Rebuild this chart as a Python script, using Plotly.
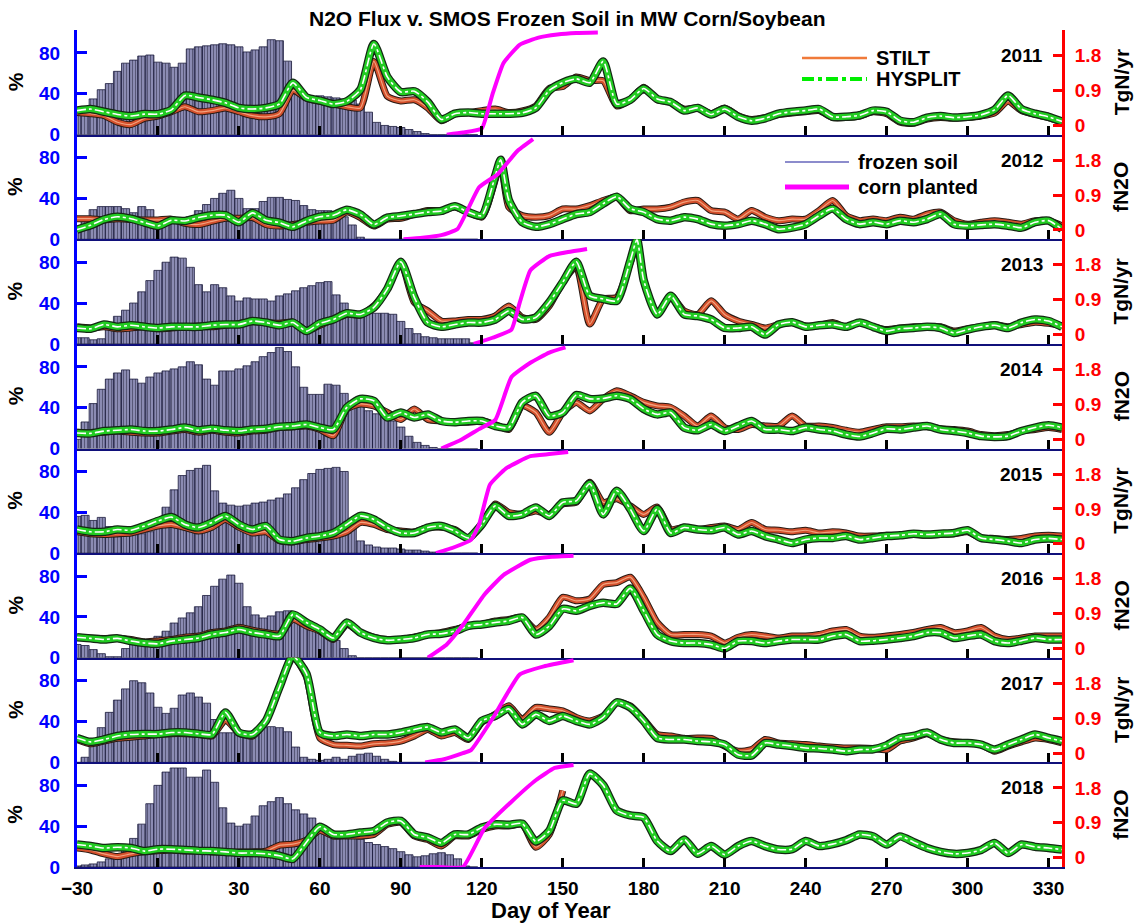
import plotly.graph_objects as go

# ---------------- data ----------------
YEARS = [2011, 2012, 2013, 2014, 2015, 2016, 2017, 2018]
FLUX_DAYS = list(range(-30, 336, 5))          # 74 days
FROZEN_DAYS = list(range(-30, 118, 3))        # 50 days
X_TICKS = list(range(-30, 331, 30))
LEFT_TICKS = [0, 40, 80]
RIGHT_TICKS = [0, 0.9, 1.8]
RIGHT_TICK_TEXT = ["0", "0.9", "1.8"]
RIGHT_TITLES = ["TgN/yr", "fN2O", "TgN/yr", "fN2O", "TgN/yr", "fN2O", "TgN/yr", "fN2O"]

days_2012 = FLUX_DAYS[:32] + [127] + FLUX_DAYS[32:]
days_2013 = FLUX_DAYS[:42] + [177.5] + FLUX_DAYS[42:]

# ---- HYSPLIT / STILT fluxes (TgN/yr) ----
hysplit_2011 = [0.38, 0.42, 0.35, 0.28, 0.24, 0.29, 0.29, 0.40, 0.77, 0.72,
                0.66, 0.58, 0.45, 0.42, 0.45, 0.55, 1.10, 0.72, 0.64, 0.55,
                0.62, 0.92, 2.10, 1.25, 0.86, 0.88, 0.60, 0.15, 0.30, 0.33,
                0.30, 0.30, 0.30, 0.32, 0.45, 0.90, 1.10, 1.20, 1.10, 1.65,
                0.55, 0.66, 0.95, 0.68, 0.60, 0.38, 0.45, 0.28, 0.42, 0.22,
                0.12, 0.18, 0.30, 0.35, 0.38, 0.42, 0.22, 0.22, 0.26, 0.38,
                0.35, 0.12, 0.08, 0.20, 0.24, 0.20, 0.22, 0.27, 0.40, 0.77,
                0.42, 0.30, 0.22, 0.10]
stilt_2011 = [0.33, 0.30, 0.25, 0.08, 0.02, 0.18, 0.24, 0.35, 0.48, 0.35,
              0.38, 0.45, 0.35, 0.25, 0.22, 0.30, 0.90, 0.70, 0.62, 0.55,
              0.48, 0.45, 1.65, 0.75, 0.63, 0.66, 0.45, 0.12, 0.30, 0.33,
              0.38, 0.42, 0.33, 0.37, 0.50, 0.95, 1.00, 1.25, 1.15, 1.15,
              0.50, 0.66, 0.98, 0.66, 0.60, 0.42, 0.45, 0.30, 0.45, 0.25,
              0.15, 0.20, 0.28, 0.32, 0.35, 0.38, 0.20, 0.20, 0.24, 0.35,
              0.30, 0.08, 0.05, 0.16, 0.20, 0.18, 0.20, 0.24, 0.32, 0.62,
              0.38, 0.28, 0.20, 0.08]

hysplit_2012 = [0.01, 0.12, 0.27, 0.34, 0.29, 0.19, 0.10, 0.25, 0.23, 0.32,
                0.38, 0.38, 0.20, 0.44, 0.25, 0.19, 0.08, 0.23, 0.34, 0.38,
                0.52, 0.40, 0.14, 0.32, 0.36, 0.41, 0.46, 0.49, 0.61, 0.46,
                0.37, 1.40, 1.81, 0.77, 0.20, 0.08, 0.15, 0.28, 0.41, 0.46, 0.68,
                0.86, 0.55, 0.46, 0.28, 0.24, 0.33, 0.28, 0.15, 0.11, 0.15,
                0.24, 0.15, 0.02, 0.06, 0.15, 0.37, 0.55, 0.28, 0.15, 0.20,
                0.15, 0.24, 0.20, 0.28, 0.41, 0.15, 0.11, 0.13, 0.15, 0.11,
                0.06, 0.20, 0.24, 0.02]
stilt_2012 = [0.29, 0.29, 0.26, 0.29, 0.27, 0.26, 0.26, 0.28, 0.17, 0.14,
              0.22, 0.30, 0.30, 0.32, 0.14, 0.10, 0.14, 0.20, 0.23, 0.25,
              0.46, 0.32, 0.10, 0.28, 0.30, 0.41, 0.50, 0.50, 0.59, 0.46,
              0.33, 1.30, 1.78, 0.59, 0.37, 0.33, 0.37, 0.54, 0.54, 0.63, 0.76,
              0.85, 0.50, 0.54, 0.54, 0.59, 0.72, 0.76, 0.50, 0.46, 0.28,
              0.50, 0.33, 0.24, 0.28, 0.28, 0.50, 0.76, 0.37, 0.24, 0.28,
              0.24, 0.33, 0.28, 0.41, 0.46, 0.24, 0.15, 0.20, 0.24, 0.20,
              0.15, 0.24, 0.24, 0.11]

hysplit_2013 = [0.17, 0.15, 0.26, 0.20, 0.24, 0.20, 0.17, 0.20, 0.20, 0.20,
                0.24, 0.26, 0.26, 0.35, 0.31, 0.24, 0.31, 0.09, 0.29, 0.39,
                0.55, 0.52, 0.70, 1.18, 1.88, 0.96, 0.31, 0.20, 0.26, 0.31,
                0.31, 0.39, 0.61, 0.39, 0.44, 0.83, 1.35, 1.88, 1.00, 0.92,
                0.87, 1.90, 2.45, 1.40, 0.52, 1.00, 0.52, 0.48, 0.39, 0.17, 0.17,
                0.20, 0.00, 0.26, 0.32, 0.20, 0.24, 0.26, 0.20, 0.31, 0.20,
                0.09, 0.15, 0.17, 0.20, 0.17, 0.04, 0.13, 0.20, 0.24, 0.17,
                0.31, 0.39, 0.35, 0.20]
stilt_2013 = [0.20, 0.17, 0.20, 0.15, 0.17, 0.20, 0.15, 0.17, 0.20, 0.22,
              0.20, 0.24, 0.29, 0.33, 0.31, 0.29, 0.32, 0.11, 0.24, 0.39,
              0.52, 0.50, 0.74, 1.18, 1.85, 0.83, 0.61, 0.35, 0.35, 0.39,
              0.39, 0.48, 0.74, 0.44, 0.39, 0.74, 1.35, 1.75, 0.27, 0.92,
              0.96, 1.85, 2.40, 1.40, 0.52, 1.00, 0.61, 0.52, 0.87, 0.52, 0.35,
              0.26, 0.17, 0.26, 0.32, 0.22, 0.24, 0.31, 0.20, 0.31, 0.20,
              0.13, 0.17, 0.20, 0.20, 0.20, 0.09, 0.15, 0.20, 0.26, 0.20,
              0.26, 0.32, 0.29, 0.22]

hysplit_2014 = [0.16, 0.15, 0.21, 0.23, 0.25, 0.21, 0.21, 0.25, 0.30, 0.23,
                0.27, 0.23, 0.21, 0.25, 0.27, 0.32, 0.34, 0.38, 0.30, 0.25,
                0.82, 1.04, 0.99, 0.56, 0.69, 0.56, 0.64, 0.47, 0.44, 0.47,
                0.47, 0.34, 0.30, 0.95, 1.12, 0.60, 0.69, 1.14, 1.04, 1.05,
                1.12, 1.04, 0.78, 0.64, 0.69, 0.30, 0.23, 0.38, 0.21, 0.34,
                0.47, 0.25, 0.25, 0.21, 0.30, 0.25, 0.21, 0.12, 0.07, 0.16,
                0.27, 0.25, 0.30, 0.34, 0.25, 0.21, 0.16, 0.08, 0.06, 0.08,
                0.21, 0.30, 0.36, 0.30]
stilt_2014 = [0.18, 0.16, 0.18, 0.21, 0.18, 0.16, 0.16, 0.21, 0.25, 0.18,
              0.23, 0.18, 0.16, 0.21, 0.23, 0.30, 0.32, 0.34, 0.25, 0.09,
              0.78, 0.91, 0.86, 0.69, 0.51, 0.78, 0.51, 0.47, 0.44, 0.44,
              0.47, 0.38, 0.25, 0.86, 0.69, 0.18, 0.69, 0.95, 0.73, 1.04,
              1.25, 1.12, 0.95, 0.86, 0.82, 0.60, 0.34, 0.60, 0.30, 0.25,
              0.38, 0.34, 0.34, 0.60, 0.34, 0.34, 0.30, 0.23, 0.18, 0.25,
              0.32, 0.32, 0.34, 0.32, 0.27, 0.25, 0.21, 0.12, 0.09, 0.12,
              0.21, 0.25, 0.30, 0.25]

hysplit_2015 = [0.37, 0.31, 0.31, 0.37, 0.35, 0.46, 0.59, 0.69, 0.50, 0.42,
                0.55, 0.72, 0.50, 0.37, 0.46, 0.11, 0.07, 0.15, 0.20, 0.28,
                0.50, 0.72, 0.63, 0.42, 0.28, 0.28, 0.42, 0.46, 0.33, 0.15,
                0.50, 0.98, 0.72, 0.76, 0.94, 0.72, 1.07, 1.11, 1.55, 0.76,
                1.37, 0.90, 0.33, 0.90, 0.28, 0.42, 0.37, 0.35, 0.42, 0.24,
                0.33, 0.20, 0.11, 0.02, 0.11, 0.15, 0.15, 0.20, 0.11, 0.15,
                0.20, 0.22, 0.26, 0.24, 0.26, 0.28, 0.35, 0.15, 0.11, 0.07,
                0.02, 0.11, 0.14, 0.11]
stilt_2015 = [0.31, 0.26, 0.24, 0.26, 0.28, 0.37, 0.46, 0.50, 0.42, 0.33,
              0.43, 0.63, 0.43, 0.28, 0.31, 0.08, 0.05, 0.11, 0.15, 0.20,
              0.31, 0.55, 0.50, 0.37, 0.33, 0.31, 0.42, 0.43, 0.37, 0.15,
              0.50, 1.03, 0.81, 0.76, 0.85, 0.76, 1.03, 1.07, 1.59, 1.07,
              1.16, 0.98, 0.76, 0.95, 0.37, 0.43, 0.37, 0.42, 0.46, 0.37,
              0.55, 0.37, 0.35, 0.31, 0.35, 0.28, 0.31, 0.28, 0.20, 0.20,
              0.22, 0.22, 0.24, 0.22, 0.24, 0.26, 0.31, 0.15, 0.14, 0.11,
              0.14, 0.20, 0.22, 0.20]

hysplit_2016 = [0.29, 0.26, 0.23, 0.26, 0.19, 0.14, 0.12, 0.19, 0.23, 0.27,
                0.36, 0.41, 0.49, 0.41, 0.36, 0.32, 0.88, 0.67, 0.49, 0.27,
                0.67, 0.41, 0.27, 0.21, 0.23, 0.27, 0.36, 0.38, 0.45, 0.58,
                0.62, 0.67, 0.71, 0.80, 0.36, 0.58, 1.02, 0.97, 1.10, 1.18,
                1.15, 1.55, 0.97, 0.36, 0.19, 0.14, 0.14, 0.10, 0.00, 0.19,
                0.19, 0.14, 0.19, 0.23, 0.23, 0.23, 0.32, 0.36, 0.19, 0.20,
                0.23, 0.27, 0.32, 0.41, 0.41, 0.27, 0.32, 0.36, 0.19, 0.14,
                0.20, 0.27, 0.23, 0.23]
stilt_2016 = [0.29, 0.27, 0.26, 0.27, 0.23, 0.17, 0.19, 0.23, 0.29, 0.32,
              0.41, 0.45, 0.55, 0.47, 0.41, 0.38, 0.75, 0.58, 0.45, 0.23,
              0.62, 0.41, 0.29, 0.23, 0.23, 0.29, 0.36, 0.41, 0.49, 0.58,
              0.62, 0.71, 0.75, 0.80, 0.49, 0.80, 1.32, 1.23, 1.28, 1.65,
              1.70, 1.84, 1.32, 0.67, 0.36, 0.36, 0.36, 0.32, 0.14, 0.29,
              0.36, 0.32, 0.27, 0.32, 0.32, 0.36, 0.45, 0.49, 0.32, 0.29,
              0.32, 0.36, 0.41, 0.49, 0.54, 0.41, 0.45, 0.54, 0.32, 0.23,
              0.27, 0.32, 0.32, 0.32]

hysplit_2017 = [0.39, 0.29, 0.35, 0.44, 0.48, 0.49, 0.49, 0.53, 0.53, 0.50,
                0.48, 1.05, 0.53, 0.48, 0.83, 1.70, 2.50, 2.05, 0.53, 0.44,
                0.48, 0.44, 0.48, 0.48, 0.53, 0.61, 0.67, 0.53, 0.61, 0.39,
                0.83, 0.96, 1.14, 0.74, 1.00, 0.83, 0.96, 0.83, 0.74, 0.92,
                1.31, 1.18, 0.83, 0.39, 0.35, 0.35, 0.31, 0.29, 0.22, -0.04,
                -0.06, 0.26, 0.22, 0.18, 0.13, 0.12, 0.09, 0.05, 0.09, 0.10,
                0.20, 0.39, 0.44, 0.53, 0.35, 0.26, 0.26, 0.22, 0.09, 0.22,
                0.35, 0.48, 0.39, 0.31]
stilt_2017 = [0.35, 0.24, 0.31, 0.38, 0.41, 0.44, 0.48, 0.50, 0.50, 0.48,
              0.44, 0.85, 0.53, 0.44, 0.83, 1.70, 2.50, 1.97, 0.39, 0.22,
              0.20, 0.18, 0.24, 0.26, 0.31, 0.44, 0.61, 0.44, 0.53, 0.35,
              0.79, 1.00, 1.22, 0.87, 1.18, 1.14, 1.09, 0.92, 0.83, 0.96,
              1.31, 1.22, 0.87, 0.48, 0.44, 0.38, 0.39, 0.38, 0.18, 0.05,
              0.09, 0.35, 0.26, 0.24, 0.22, 0.18, 0.15, 0.13, 0.13, 0.12,
              0.09, 0.31, 0.39, 0.50, 0.35, 0.29, 0.26, 0.22, 0.05, 0.18,
              0.29, 0.39, 0.35, 0.26]

hysplit_2018 = [0.34, 0.30, 0.25, 0.27, 0.25, 0.17, 0.22, 0.22, 0.20, 0.18,
                0.17, 0.15, 0.12, 0.12, 0.10, 0.05, -0.03, 0.40, 0.80, 0.60,
                0.60, 0.65, 0.69, 0.91, 0.95, 0.60, 0.52, 0.38, 0.60, 0.60,
                0.78, 0.86, 0.85, 0.88, 0.42, 0.69, 1.48, 1.39, 2.17, 1.87,
                1.22, 1.09, 1.04, 0.43, 0.17, 0.47, 0.10, 0.30, 0.08, 0.30,
                0.43, 0.30, 0.21, 0.22, 0.43, 0.30, 0.35, 0.45, 0.60, 0.55,
                0.34, 0.55, 0.40, 0.25, 0.15, 0.10, 0.12, 0.20, 0.38, 0.12,
                0.34, 0.28, 0.25, 0.21]
stilt_2018 = [0.25, 0.20, 0.10, 0.03, 0.10, 0.15, 0.18, 0.20, 0.17, 0.18,
              0.15, 0.15, 0.15, 0.15, 0.17, 0.32, 0.35, 0.45, 0.70, 0.56,
              0.56, 0.56, 0.60, 0.86, 0.91, 0.56, 0.47, 0.30, 0.56, 0.56,
              0.73, 0.82, 0.82, 0.86, 0.27, 0.60, 1.73] + [None] * 37

# ---- SMOS frozen soil (%) on FROZEN_DAYS ----
frozen_2011 = [23, 25, 35, 44, 50, 62, 70, 73, 77, 78,
               71, 70, 66, 70, 84, 86, 87, 88, 89, 88,
               86, 81, 83, 86, 93, 92, 72, 40, 38, 37,
               38, 37, 36, 35, 34, 30, 22, 12, 9, 8,
               7, 5, 3, 1, 0, 0, 0, 0, 0, 0]
frozen_2012 = [8, 20, 29, 32, 32, 32, 30, 26, 32, 29,
               20, 19, 20, 21, 22, 28, 34, 40, 45, 48,
               40, 30, 30, 37, 41, 41, 39, 38, 33, 29,
               28, 28, 27, 22, 14, 2, 0, 0, 0, 0,
               0, 0, 0, 0, 0, 0, 0, 0, 0, 0]
frozen_2013 = [6, 6, 4, 5, 20, 27, 33, 40, 51, 62,
               72, 80, 85, 84, 75, 58, 51, 58, 55, 47,
               42, 45, 44, 44, 42, 47, 49, 52, 55, 57,
               60, 61, 48, 40, 32, 30, 30, 30, 30, 29,
               22, 15, 10, 7, 6, 5, 5, 5, 5, 1]
frozen_2014 = [9, 26, 44, 58, 68, 74, 77, 68, 64, 70,
               74, 76, 78, 80, 85, 82, 68, 62, 76, 76,
               78, 81, 85, 90, 94, 99, 95, 80, 60, 53,
               53, 63, 62, 54, 46, 41, 37, 34, 31, 27,
               21, 12, 6, 3, 1, 0, 0, 0, 0, 0]
frozen_2015 = [36, 37, 32, 35, 26, 16, 18, 18, 19, 21,
               33, 45, 62, 76, 81, 83, 86, 61, 49, 47,
               46, 47, 49, 50, 52, 54, 58, 64, 72, 78,
               82, 83, 84, 80, 34, 12, 8, 6, 5, 5,
               4, 3, 3, 2, 1, 0, 0, 0, 0, 0]
frozen_2016 = [13, 12, 8, 4, 1, 1, 9, 15, 17, 18,
               21, 26, 34, 39, 44, 50, 61, 70, 77, 81,
               73, 50, 42, 39, 41, 45, 46, 39, 34, 30,
               26, 22, 17, 9, 2, 0, 0, 0, 0, 0,
               0, 0, 0, 0, 0, 0, 0, 0, 0, 0]
frozen_2017 = [0, 5, 17, 34, 49, 61, 72, 80, 78, 68,
               54, 48, 53, 66, 68, 64, 58, 42, 29, 29,
               27, 28, 31, 34, 35, 34, 30, 15, 5, 3,
               2, 3, 5, 3, 6, 8, 9, 6, 3, 1,
               0, 0, 0, 0, 0, 0, 0, 0, 0, 0]
frozen_2018 = [1, 2, 3, 5, 8, 12, 19, 28, 42, 62,
               80, 93, 97, 97, 88, 88, 95, 83, 58, 43,
               40, 42, 50, 60, 64, 68, 62, 56, 52, 48,
               39, 36, 34, 31, 29, 27, 24, 22, 20, 18,
               15, 12, 10, 11, 13, 14, 12, 8, 1, 0]

# ---- corn planted (%) ----
corn_days_2011 = [107, 113, 120, 124, 128, 134, 141, 148, 155, 163]
corn_pct_2011 = [0, 2, 6, 40, 70, 88, 95, 98, 99.5, 100]
corn_days_2012 = [91, 98, 105, 111, 119, 126, 133, 139]
corn_pct_2012 = [0, 1.5, 4, 10, 51, 64, 86, 98]
corn_days_2013 = [117, 124, 131, 134, 138, 145, 152, 159]
corn_pct_2013 = [0, 6, 14, 40, 72, 86, 90, 93]
corn_days_2014 = [105, 112, 119, 125, 131, 138, 145, 151]
corn_pct_2014 = [0, 8, 19, 28, 70, 84, 94, 99]
corn_days_2015 = [103, 110, 116, 119, 123, 129, 138, 145, 152]
corn_pct_2015 = [0, 6, 13, 28, 67, 83, 95, 97, 99]
corn_days_2016 = [100, 107, 113, 121, 128, 138, 146, 154]
corn_pct_2016 = [0, 13, 32, 62, 81, 96, 99, 100]
corn_days_2017 = [99, 106, 113, 116, 124, 134, 143, 154]
corn_pct_2017 = [0, 3, 9, 12, 43, 86, 94, 100]
corn_days_2018 = [97, 104, 113, 121, 131, 140, 147, 154]
corn_pct_2018 = [0, 0, 0, 38, 64, 85, 97, 100]

flux_days = [FLUX_DAYS, days_2012, days_2013, FLUX_DAYS, FLUX_DAYS, FLUX_DAYS, FLUX_DAYS, FLUX_DAYS]
stilt = [stilt_2011, stilt_2012, stilt_2013, stilt_2014, stilt_2015, stilt_2016, stilt_2017, stilt_2018]
hysplit = [hysplit_2011, hysplit_2012, hysplit_2013, hysplit_2014, hysplit_2015, hysplit_2016,
           hysplit_2017, hysplit_2018]
frozen = [frozen_2011, frozen_2012, frozen_2013, frozen_2014, frozen_2015, frozen_2016,
          frozen_2017, frozen_2018]
corn_days = [corn_days_2011, corn_days_2012, corn_days_2013, corn_days_2014, corn_days_2015,
             corn_days_2016, corn_days_2017, corn_days_2018]
corn_pct = [corn_pct_2011, corn_pct_2012, corn_pct_2013, corn_pct_2014, corn_pct_2015,
            corn_pct_2016, corn_pct_2017, corn_pct_2018]

# ---------------- layout geometry ----------------
W, H = 1134, 924
ML, MR, MT, MB = 77, 72, 30, 57
PW, PH = W - ML - MR, H - MT - MB
N = len(YEARS)
FONT = "Liberation Sans"
LEFT_RANGE = [0, 102.5]
RIGHT_RANGE = [-0.24, 2.46]
BLUE, RED = "#0000ff", "#ff0000"


def px(x):
    return (x - ML) / PW


def py(y):
    return 1 - (y - MT) / PH


fig = go.Figure()
layout = {}
annotations = []

for k, year in enumerate(YEARS):
    sfx = "" if k == 0 else str(k + 1)
    xa, yl = "x" + sfx, "y" + sfx
    yr, yt = "y" + str(k + 1 + N), "y" + str(k + 1 + 2 * N)

    fig.add_trace(go.Bar(x=FROZEN_DAYS, y=frozen[k], width=3, xaxis=xa, yaxis=yl,
                         marker=dict(color="#9090bc",
                                     line=dict(color="#1a1a3c", width=0.8),
                                     pattern=dict(shape="|", size=3.0, solidity=0.5,
                                                  fgcolor="#14142a", bgcolor="#9c9cc6")),
                         showlegend=False, hoverinfo="skip"))

    d = flux_days[k]
    for col, w in (("#2a1a14", 7), ("#d4502c", 5), ("#f3a27e", 1.2)):
        fig.add_trace(go.Scatter(x=d, y=stilt[k], mode="lines", xaxis=xa, yaxis=yr,
                                 line=dict(color=col, width=w, shape="spline", smoothing=0.6),
                                 connectgaps=False, showlegend=False, hoverinfo="skip"))
    for col, w, dash in (("#142814", 8.5, "solid"), ("#22cc22", 6, "solid"), ("#ffffff", 1.6, "dashdot")):
        fig.add_trace(go.Scatter(x=d, y=hysplit[k], mode="lines", xaxis=xa, yaxis=yr,
                                 line=dict(color=col, width=w, dash=dash, shape="spline", smoothing=0.6),
                                 showlegend=False, hoverinfo="skip"))

    fig.add_trace(go.Scatter(x=corn_days[k], y=corn_pct[k], mode="lines", xaxis=xa, yaxis=yt,
                             line=dict(color="#ff00ff", width=4, shape="spline", smoothing=0.4),
                             showlegend=False, hoverinfo="skip"))

    dom = [1 - (k + 1) / N, 1 - k / N]
    layout["xaxis" + sfx] = dict(
        domain=[0, 1], anchor=yl, range=[-30, 335], tickvals=X_TICKS,
        ticks="inside", ticklen=9, tickwidth=3, tickcolor="black",
        showline=True, linecolor="#10107a", linewidth=2,
        showticklabels=(k == N - 1), showgrid=False, zeroline=False,
        tickfont=dict(family=FONT, size=19, color="black", weight="bold"),
        ticklabelstandoff=3)
    layout["yaxis" + sfx] = dict(
        domain=dom, anchor=xa, range=LEFT_RANGE, tickvals=LEFT_TICKS,
        ticks="inside", ticklen=10, tickwidth=3, tickcolor=BLUE,
        showline=True, linecolor=BLUE, linewidth=3, showgrid=False, zeroline=False,
        tickfont=dict(family=FONT, size=19, color=BLUE, weight="bold"),
        ticklabelstandoff=10)
    layout["yaxis" + str(k + 1 + N)] = dict(
        overlaying=yl, anchor=xa, side="right", range=RIGHT_RANGE,
        tickvals=RIGHT_TICKS, ticktext=RIGHT_TICK_TEXT,
        ticks="inside", ticklen=9, tickwidth=3, tickcolor=RED,
        showline=True, linecolor=RED, linewidth=3, showgrid=False, zeroline=False,
        tickfont=dict(family=FONT, size=19, color=RED, weight="bold"),
        ticklabelstandoff=6)
    layout["yaxis" + str(k + 1 + 2 * N)] = dict(
        overlaying=yl, anchor=xa, range=LEFT_RANGE, visible=False)

    yc = (dom[0] + dom[1]) / 2
    annotations.append(dict(x=px(15), y=yc, xref="paper", yref="paper", text="%",
                            textangle=-90, showarrow=False, xanchor="center", yanchor="middle",
                            font=dict(family=FONT, size=21, color="black", weight="bold")))
    annotations.append(dict(x=px(1121), y=yc, xref="paper", yref="paper", text=RIGHT_TITLES[k],
                            textangle=-90, showarrow=False, xanchor="center", yanchor="middle",
                            font=dict(family=FONT, size=21, color="black", weight="bold")))
    annotations.append(dict(x=px(1045), y=1.8, xref="paper", yref=yr, text=str(year),
                            xanchor="right", yanchor="middle", showarrow=False,
                            font=dict(family=FONT, size=19, color="black", weight="bold")))

annotations.append(dict(x=px(567), y=py(19), xref="paper", yref="paper",
                        text="N2O Flux v. SMOS Frozen Soil in MW Corn/Soybean", showarrow=False,
                        xanchor="center", yanchor="middle",
                        font=dict(family=FONT, size=21, color="black", weight="bold")))
annotations.append(dict(x=px(551), y=py(910), xref="paper", yref="paper", text="Day of Year",
                        showarrow=False, xanchor="center", yanchor="middle",
                        font=dict(family=FONT, size=22, color="black", weight="bold")))

# manual legends
LEG = [("STILT", 802, 867, 58, "#f07a3a", 2.5, "solid"),
       ("HYSPLIT", 802, 867, 79, "#00ee00", 4, "dashdot"),
       ("frozen soil", 785, 849, 162, "#1a1a9a", 1.2, "solid"),
       ("corn planted", 785, 849, 187, "#ff00ff", 5, "solid")]
shapes = []
for name, x0, x1, yy, col, w, dash in LEG:
    shapes.append(dict(type="line", xref="paper", yref="paper", x0=px(x0), x1=px(x1),
                       y0=py(yy), y1=py(yy), line=dict(color=col, width=w, dash=dash)))
    annotations.append(dict(x=px(x1 + 7), y=py(yy), xref="paper", yref="paper", text=name,
                            xanchor="left", yanchor="middle", showarrow=False,
                            font=dict(family=FONT, size=20, color="black", weight="bold")))

fig.update_layout(**layout)
fig.update_layout(width=W, height=H, margin=dict(l=ML, r=MR, t=MT, b=MB),
                  paper_bgcolor="white", plot_bgcolor="white", barmode="overlay",
                  annotations=annotations, shapes=shapes, showlegend=False)

fig.write_html("out.html", config={"displayModeBar": False},
               post_script="document.body.style.margin='0';document.body.style.overflow='hidden';")
